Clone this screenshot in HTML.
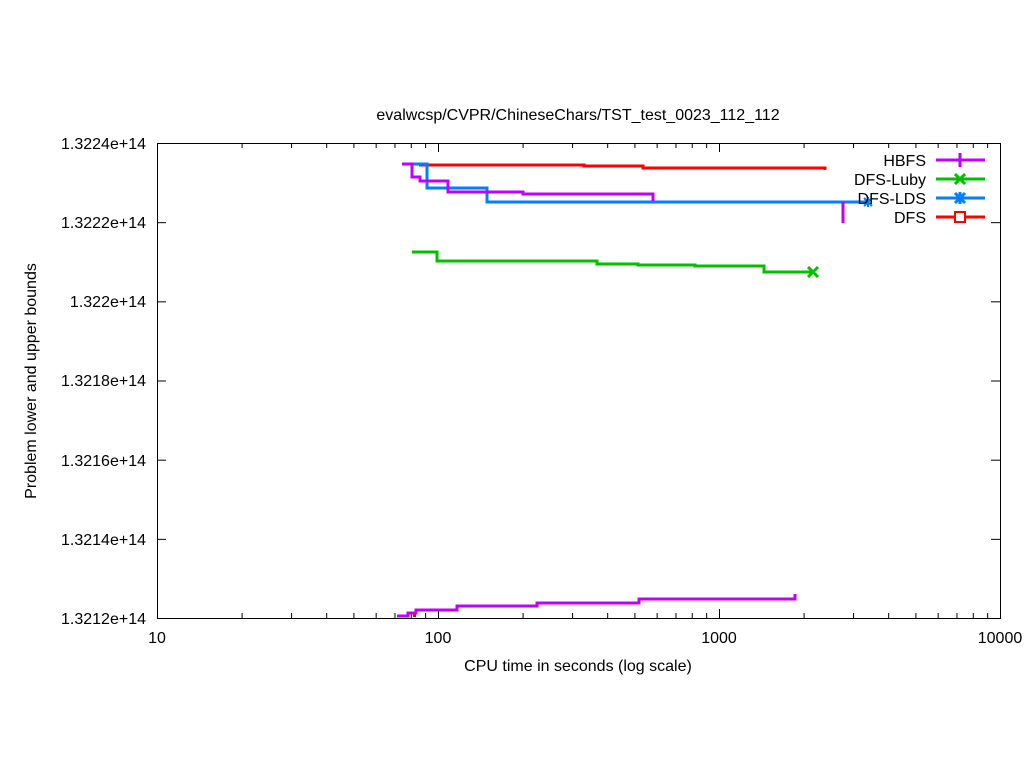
<!DOCTYPE html>
<html><head><meta charset="utf-8"><style>body{margin:0;background:#fff}svg{display:block}text{font-family:"Liberation Sans",sans-serif;font-size:16px;fill:#000}</style></head><body>
<svg id="s" width="1024" height="768" xmlns="http://www.w3.org/2000/svg">
<rect x="157.5" y="143.5" width="843" height="475" fill="none" stroke="#000" stroke-width="1"/>
<g id="ticks" stroke="#000" stroke-width="1"></g>
<g text-anchor="end">
<text x="146" y="149">1.3224e+14</text>
<text x="146" y="228">1.3222e+14</text>
<text x="146" y="307">1.322e+14</text>
<text x="146" y="386">1.3218e+14</text>
<text x="146" y="466">1.3216e+14</text>
<text x="146" y="545">1.3214e+14</text>
<text x="146" y="624">1.3212e+14</text>
</g>
<g text-anchor="middle">
<text x="157" y="643">10</text>
<text x="438" y="643">100</text>
<text x="719" y="643">1000</text>
<text x="1000" y="643">10000</text>
<text x="578" y="671">CPU time in seconds (log scale)</text>
<text x="578" y="120">evalwcsp/CVPR/ChineseChars/TST_test_0023_112_112</text>
<text transform="translate(36,381) rotate(-90)">Problem lower and upper bounds</text>
</g>
<g fill="none" stroke-width="3">
<polyline stroke="#ff0000" points="419,165 584,165 584,166 643,166 643,168 825,168 825,170"/>
<polyline stroke="#0080ff" points="410,164 427,164 427,188 487,188 487,202 868,202"/>
<path stroke="#0080ff" stroke-width="2" d="M864,198l8,8M872,198l-8,8M868,197v10"/>
<polyline stroke="#bf00ff" points="402,164 412,164 412,177 420,177 420,181 448,181 448,192 523,192 523,194 653,194 653,201"/>
<line stroke="#bf00ff" x1="843" y1="202" x2="843" y2="223"/>
<polyline stroke="#00c000" points="412,252 437,252 437,261 597,261 597,264 638,264 638,265 695,265 695,266 764,266 764,272 813,272"/>
<polyline stroke="#bf00ff" points="397,616 408,616 408,613 416,613 416,610 457,610 457,606 537,606 537,603 639,603 639,599 795,599 795,594"/>
<rect x="413" y="614" width="3" height="3" fill="#ff0000" stroke="none"/>
<path stroke="#00c000" d="M808,267l10,10M818,267l-10,10"/>
<line stroke="#bf00ff" x1="936" y1="160" x2="985" y2="160"/><line stroke="#bf00ff" x1="960" y1="153" x2="960" y2="167"/>
<line stroke="#00c000" x1="936" y1="179" x2="985" y2="179"/><path stroke="#00c000" d="M955,174l10,10M965,174l-10,10"/>
<line stroke="#0080ff" x1="936" y1="198" x2="985" y2="198"/><path stroke="#0080ff" d="M955,193l10,10M965,193l-10,10M960,192v12"/>
<line stroke="#ff0000" x1="936" y1="217" x2="985" y2="217"/><rect x="955" y="212" width="10" height="10" fill="#fff" stroke="#ff0000" stroke-width="2"/>
</g>
<g text-anchor="end">
<text x="926" y="166">HBFS</text>
<text x="926" y="185">DFS-Luby</text>
<text x="926" y="204">DFS-LDS</text>
<text x="926" y="223">DFS</text>
</g>
</svg>
<script>
var g=document.getElementById('ticks'),h='';
for(var k=0;k<3;k++)for(var m=1;m<=10;m++){var x=157.5+281*(k+Math.log10(m));var L=(m==1||m==10)?9:5;h+='<line x1="'+x+'" y1="618" x2="'+x+'" y2="'+(618-L)+'"/><line x1="'+x+'" y1="143" x2="'+x+'" y2="'+(143+L)+'"/>';}
for(var i=0;i<7;i++){var y=143.5+i*79.17;h+='<line x1="157" y1="'+y+'" x2="166" y2="'+y+'"/><line x1="1000" y1="'+y+'" x2="991" y2="'+y+'"/>';}
g.innerHTML=h;
</script>
</body></html>
